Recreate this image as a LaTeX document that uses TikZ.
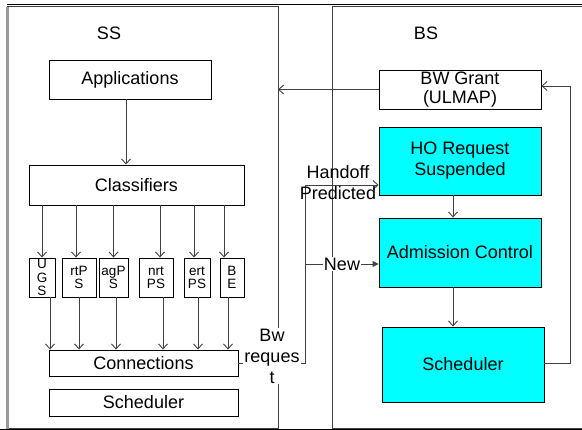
\documentclass[tikz,border=0pt]{standalone}
\usepackage{fontspec}
\setmainfont{Liberation Sans}
\usetikzlibrary{arrows.meta}
\definecolor{boxcyan}{HTML}{00FFFF}
\definecolor{wire}{HTML}{404040}
\tikzset{
  big/.style={font=\fontsize{18}{21}\selectfont},
  small/.style={font=\fontsize{13.5}{13.5}\selectfont},
  block/.style={draw=black, line width=0.9pt, inner sep=0pt, align=center, big},
  cyanblock/.style={block, fill=boxcyan},
  qbox/.style={draw=black, line width=0.9pt, inner sep=0pt, align=center, small,
               minimum height=39pt},
  container/.style={draw=wire, line width=1pt},
  wireline/.style={draw=wire, line width=0.9pt},
  arr/.style={wireline, -{Straight Barb[length=5pt,width=9pt]}},
  arrsolid/.style={wireline, -{Triangle[length=6pt,width=6pt]}},
  lbl/.style={big, align=center, inner sep=1pt}
}
\begin{document}
\begin{tikzpicture}[x=1pt,y=-1pt]
\useasboundingbox (0,0) rectangle (582,430);
\clip (0,0) rectangle (582,430);
\fill[white] (0,0) rectangle (582,430);

% outer frames
\draw[black, line width=1pt] (7,4.5) -- (582,4.5);
\draw[container] (7,7) rectangle (278,429);
\draw[gray!80, line width=2.5pt] (7.5,7) -- (7.5,429);
\draw[container] (332,7) rectangle (600,429);
\draw[black, line width=1pt] (0,429.5) -- (582,429.5);

\node[big] (sslabel) at (109,33) {SS};
\node[big] (bslabel) at (426,33) {BS};

% subscriber station
\node[block, minimum width=162pt, minimum height=39pt] (apps) at (130,79.5) {Applications};
\node[block, minimum width=215pt, minimum height=40pt] (cls) at (136.5,185) {Classifiers};

\node[qbox, minimum width=26pt] (ugs)   at (42,277.5)   {U\\G\\S};
\node[qbox, minimum width=34pt] (rtps)  at (79,277.5)   {rtP\\S};
\node[qbox, minimum width=29pt] (agps)  at (113.5,277.5) {agP\\S};
\node[qbox, minimum width=34pt] (nrtps) at (156,277.5)  {nrt\\PS};
\node[qbox, minimum width=26pt] (ertps) at (197,277.5)  {ert\\PS};
\node[qbox, minimum width=24pt] (be)    at (232,277.5)  {B\\E};

\node[block, minimum width=189pt, minimum height=26pt] (conn) at (143.5,363) {Connections};
\node[block, minimum width=189pt, minimum height=27pt] (sssched) at (143.5,402.5) {Scheduler};

\draw[arr] ([xshift=-4pt]apps.south) -- ([xshift=-4pt]apps.south |- cls.north);

\draw[arr] (ugs.north |- cls.south) -- (ugs.north);
\draw[arr] ([xshift=-3pt]rtps.north |- cls.south) -- ([xshift=-3pt]rtps.north);
\draw[arr] (agps.north |- cls.south) -- (agps.north);
\draw[arr] ([xshift=4pt]nrtps.north |- cls.south) -- ([xshift=4pt]nrtps.north);
\draw[arr] ([xshift=-3pt]ertps.north |- cls.south) -- ([xshift=-3pt]ertps.north);
\draw[arr] ([xshift=-8pt]be.north |- cls.south) -- ([xshift=-8pt]be.north);

\draw[arr] ([xshift=8pt]ugs.south) -- ([xshift=8pt]ugs.south |- conn.north);
\draw[arr] (rtps.south) -- (rtps.south |- conn.north);
\draw[arr] ([xshift=2.5pt]agps.south) -- ([xshift=2.5pt]agps.south |- conn.north);
\draw[arr] ([xshift=7pt]nrtps.south) -- ([xshift=7pt]nrtps.south |- conn.north);
\draw[arr] ([xshift=1pt]ertps.south) -- ([xshift=1pt]ertps.south |- conn.north);
\draw[arr] ([xshift=-4pt]be.south) -- ([xshift=-4pt]be.south |- conn.north);

% base station
\node[block, fill=white, minimum width=162pt, minimum height=39pt] (bwgrant) at (460,89.5) {BW Grant\\[-2pt](ULMAP)};
\node[cyanblock, minimum width=162pt, minimum height=68pt] (horeq) at (460,161) {HO Request\\Suspended};
\node[cyanblock, minimum width=162pt, minimum height=69pt] (adm) at (460,252.5) {Admission Control};
\node[cyanblock, minimum width=162pt, minimum height=75pt] (bssched) at (463,364.5) {Scheduler};

\draw[arr] ([xshift=-7pt]horeq.south) -- ([xshift=-7pt]horeq.south |- adm.north);
\draw[arr] ([xshift=-7pt]adm.south) -- ([xshift=-7pt]adm.south |- bssched.north);

% bandwidth request path
\coordinate (bend) at (305,363);
\coordinate (hotap) at (305,185);
\coordinate (newtap) at (305,264);
\draw[wireline] (conn.east) -- (bend) -- (hotap);
\draw[arr] (hotap) -- (hotap -| horeq.west);
\draw[arrsolid] (newtap) -- (newtap -| adm.west);
\node[lbl, fill=white] (bwreq) at (272,356) {Bw\\reques\\t};
\node[lbl, fill=white, inner sep=0.5pt] (newlbl) at (342,264) {New};
\node[lbl] (holbl) at (338,183) {Handoff\\Predicted};

% grant path
\coordinate (gdown) at (570,363);
\coordinate (gup) at (570,86);
\draw[wireline] (bssched.east |- gdown) -- (gdown) -- (gup);
\draw[arr] (gup) -- (gup -| bwgrant.east);
\draw[arr] (bwgrant.west) -- (bwgrant.west -| 278,0);
\end{tikzpicture}
\end{document}
